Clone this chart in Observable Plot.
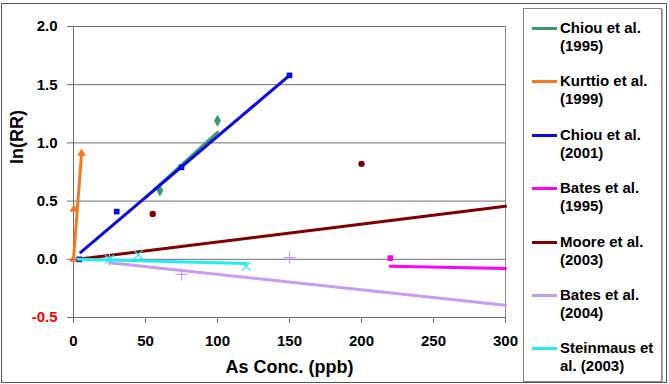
<!DOCTYPE html>
<html><head><meta charset="utf-8">
<script src="https://cdn.jsdelivr.net/npm/d3@7"></script>
<script src="https://cdn.jsdelivr.net/npm/@observablehq/plot@0.6"></script>
<style>
body{margin:0;background:#fff;}
#wrap{position:relative;width:669px;height:384px;font-family:"Liberation Sans",Arial,sans-serif;overflow:hidden}
#frame{position:absolute;left:1px;top:3px;width:666px;height:380px;border:1px solid #555;box-sizing:border-box;pointer-events:none}
#legend{position:absolute;left:523px;top:8px;width:139px;height:374px;border:1px solid #888;box-shadow:1px 1px 0 #aaa;box-sizing:border-box;background:#fff}
.item{position:absolute;left:0;width:139px;height:40px}
.sw{position:absolute;left:8px;width:25px;height:3px;top:8px}
.lbl{position:absolute;left:36px;top:0;font-weight:bold;font-size:15px;line-height:18px;color:#000;white-space:nowrap}
svg{position:absolute;left:0;top:0}
</style></head>
<body><div id="wrap"><div id="chart"></div><div id="legend"></div><div id="frame"></div></div>
<script>
const xTicks = [0, 50, 100, 150, 200, 250, 300];
const yTicks = [-0.5, 0, 0.5, 1, 1.5, 2];
const seriesNames = ["Chiou et al.|(1995)", "Kurttio et al.|(1999)", "Chiou et al.|(2001)", "Bates et al.|(1995)", "Moore et al.|(2003)", "Bates et al.|(2004)", "Steinmaus et|al. (2003)"];
const seriesColors = ["#3a9a6a", "#f7781e", "#0a0ae6", "#ff00ff", "#800000", "#c89cf4", "#22eeee"];
const seriesSymbols = ["diamond", "triangle", "square", "square", "circle", "plus", "times"];

// trend lines (x, y)
const chiou1995LineX = [50, 100], chiou1995LineY = [0.53, 1.09];
const kurttioLineX = [0, 5.6], kurttioLineY = [0, 0.91];
const chiou2001LineX = [5, 150], chiou2001LineY = [0.06, 1.58];
const bates1995LineX = [220, 300], bates1995LineY = [-0.06, -0.08];
const mooreLineX = [3, 300], mooreLineY = [0, 0.455];
const bates2004LineX = [25, 300], bates2004LineY = [-0.03, -0.395];
const steinmausLineX = [3, 120], steinmausLineY = [0, -0.037];

// data points (x, y)
const chiou1995PtsX = [60, 100], chiou1995PtsY = [0.59, 1.19];
const kurttioPtsX = [0, 0.3, 5.6], kurttioPtsY = [0, 0.43, 0.91];
const chiou2001PtsX = [4, 30, 75, 150], chiou2001PtsY = [0, 0.41, 0.79, 1.58];
const bates1995PtsX = [220], bates1995PtsY = [0.01];
const moorePtsX = [55, 200], moorePtsY = [0.39, 0.82];
const bates2004PtsX = [25, 75, 150], bates2004PtsY = [0, -0.13, 0.015];
const steinmausPtsX = [25, 45, 120], steinmausPtsY = [0, 0.04, -0.06];

const lines = [
  [chiou1995LineX, chiou1995LineY], [kurttioLineX, kurttioLineY], [chiou2001LineX, chiou2001LineY],
  [bates1995LineX, bates1995LineY], [mooreLineX, mooreLineY], [bates2004LineX, bates2004LineY],
  [steinmausLineX, steinmausLineY]
];
const pts = [
  [chiou1995PtsX, chiou1995PtsY], [kurttioPtsX, kurttioPtsY], [chiou2001PtsX, chiou2001PtsY],
  [bates1995PtsX, bates1995PtsY], [moorePtsX, moorePtsY], [bates2004PtsX, bates2004PtsY],
  [steinmausPtsX, steinmausPtsY]
];
const zip = (xs, ys) => xs.map((x, i) => ({x, y: ys[i]}));
const strokeSym = new Set(["plus", "times", "asterisk", "diamond2", "square2", "triangle2"]);

const marks = [
  Plot.ruleY(yTicks.filter(d => d > -0.5), {stroke: "#6e6e6e", strokeWidth: 1}),
  Plot.ruleX([300], {stroke: "#8a8a8a", strokeWidth: 1}),
  Plot.ruleY([-0.5], {stroke: "#6e6e6e", strokeWidth: 1}),
  Plot.ruleX([0], {stroke: "#6e6e6e", strokeWidth: 1}),
];
seriesNames.forEach((n, i) => {
  const c = seriesColors[i];
  const s = seriesSymbols[i];
  marks.push(Plot.line(zip(lines[i][0], lines[i][1]), {x: "x", y: "y", stroke: c, strokeWidth: 3}));
  if (strokeSym.has(s)) {
    marks.push(Plot.dot(zip(pts[i][0], pts[i][1]), {x: "x", y: "y", symbol: () => s, stroke: c, strokeWidth: 1.2, r: 4}));
  } else {
    marks.push(Plot.dot(zip(pts[i][0], pts[i][1]), {x: "x", y: "y", symbol: () => s, fill: c, r: s === "diamond" ? 3.6 : 3.2}));
  }
});
const tf = d => d.toFixed(1);
marks.push(
  Plot.axisX({ticks: xTicks, tickSize: 6, tickPadding: 12, tickFormat: d => String(d), fontSize: 15, fontWeight: "bold", fill: "#000", stroke: "#6e6e6e", label: null}),
  Plot.axisY({ticks: yTicks.filter(d => d > -0.5), tickSize: 6, tickPadding: 10, tickFormat: tf, fontSize: 15, fontWeight: "bold", fill: "#000", stroke: "#6e6e6e", label: null}),
  Plot.axisY({ticks: [-0.5], tickSize: 6, tickPadding: 10, tickFormat: tf, fontSize: 15, fontWeight: "bold", fill: "#ff0000", stroke: "#6e6e6e", label: null}),
  Plot.text(["As Conc. (ppb)"], {frameAnchor: "bottom", dy: 55, fontSize: 18, fontWeight: "bold", fill: "#000"}),
  Plot.text(["ln(RR)"], {frameAnchor: "left", dx: -56, dy: -8, rotate: -90, fontSize: 18, fontWeight: "bold", fill: "#000"})
);

const chart = Plot.plot({
  width: 669, height: 384,
  marginLeft: 73, marginRight: 164, marginTop: 26, marginBottom: 67,
  style: {fontFamily: "'Liberation Sans', Arial, sans-serif", background: "transparent", overflow: "visible"},
  x: {domain: [0, 300]},
  y: {domain: [-0.5, 2]},
  symbol: {type: "identity"},
  marks
});
document.getElementById("chart").appendChild(chart);

const legend = document.getElementById("legend");
seriesNames.forEach((n, i) => {
  const it = document.createElement("div");
  it.className = "item";
  it.style.top = (10 + i * 53.4) + "px";
  const sw = document.createElement("div");
  sw.className = "sw"; sw.style.background = seriesColors[i];
  const lb = document.createElement("div");
  lb.className = "lbl"; lb.innerHTML = n.split("|").join("<br>");
  it.appendChild(sw); it.appendChild(lb);
  legend.appendChild(it);
});
</script></body></html>
